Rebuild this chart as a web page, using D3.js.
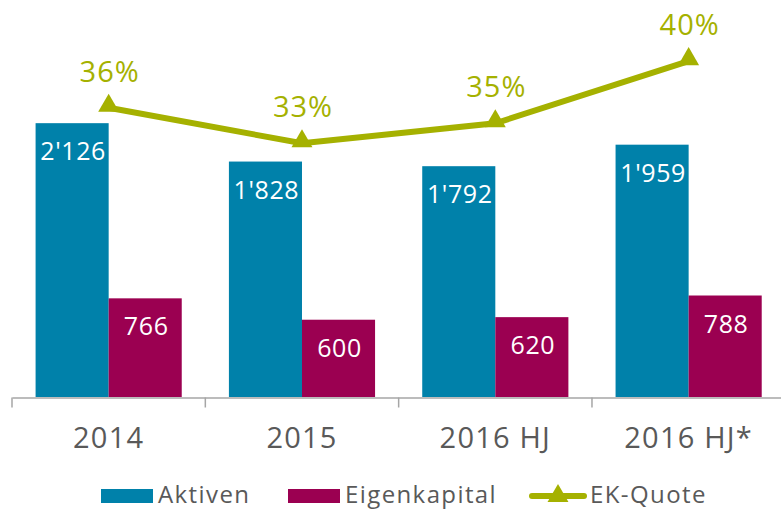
<!DOCTYPE html>
<html>
<head>
<meta charset="utf-8">
<script src="https://cdn.jsdelivr.net/npm/d3@7"></script>
<style>
	body { margin: 0; background: #fff; }
	text { font-family: 'Open Sans', sans-serif; }
</style>
</head>
<body>
<div id="chart"></div>
<script>
// NOTE data
var categories = ['2014', '2015', '2016 HJ', '2016 HJ*'];
var aktiven = [2126, 1828, 1792, 1959];
var eigenkapital = [766, 600, 620, 788];
var ekQuote = [36.0, 32.8, 34.6, 40.2];
var seriesNames = ['Aktiven', 'Eigenkapital', 'EK-Quote'];

var colors = { Aktiven: '#0081aa', Eigenkapital: '#9b0051', 'EK-Quote': '#a5b100' };

var width = 781,
	height = 509;

var svg = d3
	.select('#chart')
	.append('svg')
	.attr('width', width)
	.attr('height', height);

var x0 = d3.scaleBand().domain(categories).range([12, 785.3]).paddingInner(0);

var inset = x0.bandwidth() * 0.122;
var x1 = d3
	.scaleBand()
	.domain(['Aktiven', 'Eigenkapital'])
	.range([inset, x0.bandwidth() - inset]);

var y = d3.scaleLinear().domain([0, 2500]).range([397, 75]);
var y2 = d3.scaleLinear().domain([10, 45]).range([396, 8]);

var rows = categories.map(function (c, i) {
	return { cat: c, Aktiven: aktiven[i], Eigenkapital: eigenkapital[i], quote: ekQuote[i] };
});

// bars
var groups = svg
	.selectAll('g.grp')
	.data(rows)
	.enter()
	.append('g')
	.attr('class', 'grp')
	.attr('transform', function (d) {
		return 'translate(' + x0(d.cat) + ',0)';
	});

groups
	.selectAll('rect')
	.data(function (d) {
		return ['Aktiven', 'Eigenkapital'].map(function (k) {
			return { key: k, value: d[k] };
		});
	})
	.enter()
	.append('rect')
	.attr('x', function (d) {
		return x1(d.key);
	})
	.attr('y', function (d) {
		return y(d.value);
	})
	.attr('width', x1.bandwidth())
	.attr('height', function (d) {
		return y(0) - y(d.value);
	})
	.style('fill', function (d) {
		return colors[d.key];
	});

groups
	.selectAll('text.val')
	.data(function (d) {
		return ['Aktiven', 'Eigenkapital'].map(function (k) {
			return { key: k, value: d[k] };
		});
	})
	.enter()
	.append('text')
	.attr('class', 'val')
	.attr('x', function (d) {
		return x1(d.key) + x1.bandwidth() / 2 + 1;
	})
	.attr('y', function (d) {
		return y(d.value) + 37;
	})
	.attr('text-anchor', 'middle')
	.style('font-size', '25px')
	.style('letter-spacing', '0.6px')
	.style('fill', '#fff')
	.text(function (d) {
		return d3.format(',')(d.value).replace(/,/g, "'");
	});

// x axis
var xAxis = d3.axisBottom(x0).tickSize(10).tickSizeOuter(0).tickFormat('');
var ax = svg.append('g').attr('transform', 'translate(0,397.5)').call(xAxis);
ax.select('.domain').attr('stroke', '#a6a6a6').attr('stroke-width', 1.5);
ax.selectAll('.tick').remove();
ax.selectAll('.sep')
	.data(categories)
	.enter()
	.append('line')
	.attr('x1', function (d) {
		return x0(d);
	})
	.attr('x2', function (d) {
		return x0(d);
	})
	.attr('y1', 0)
	.attr('y2', 10)
	.attr('stroke', '#a6a6a6')
	.attr('stroke-width', 1.5);

svg
	.selectAll('text.cat')
	.data(categories)
	.enter()
	.append('text')
	.attr('class', 'cat')
	.attr('x', function (d) {
		return x0(d) + x0.bandwidth() / 2;
	})
	.attr('y', 448)
	.attr('text-anchor', 'middle')
	.style('font-size', '29px')
	.style('font-weight', 500)
	.style('letter-spacing', '1.2px')
	.style('fill', '#595959')
	.text(function (d) {
		return d;
	});

// line
var line = d3
	.line()
	.x(function (d) {
		return x0(d.cat) + x0.bandwidth() / 2;
	})
	.y(function (d) {
		return y2(d.quote);
	});

svg
	.append('path')
	.datum(rows)
	.attr('d', line)
	.attr('fill', 'none')
	.attr('stroke', colors['EK-Quote'])
	.attr('stroke-width', 6);

var tri = d3.symbol().type(d3.symbolTriangle).size(190);

svg
	.selectAll('path.mk')
	.data(rows)
	.enter()
	.append('path')
	.attr('class', 'mk')
	.attr('d', tri)
	.attr('transform', function (d) {
		return 'translate(' + (x0(d.cat) + x0.bandwidth() / 2) + ',' + (y2(d.quote) - 2) + ')';
	})
	.attr('fill', colors['EK-Quote']);

svg
	.selectAll('text.pct')
	.data(rows)
	.enter()
	.append('text')
	.attr('class', 'pct')
	.attr('x', function (d) {
		return x0(d.cat) + x0.bandwidth() / 2 + 1;
	})
	.attr('y', function (d) {
		return y2(d.quote) - 26;
	})
	.attr('text-anchor', 'middle')
	.style('font-size', '29px')
	.style('letter-spacing', '1px')
	.style('fill', colors['EK-Quote'])
	.text(function (d) {
		return Math.round(d.quote) + '%';
	});

// legend
var legendX = [101, 288, 530];
var leg = svg
	.selectAll('g.leg')
	.data(seriesNames)
	.enter()
	.append('g')
	.attr('class', 'leg')
	.attr('transform', function (d, i) {
		return 'translate(' + legendX[i] + ',496)';
	});

leg
	.filter(function (d) {
		return d !== 'EK-Quote';
	})
	.append('rect')
	.attr('x', 0)
	.attr('y', -7)
	.attr('width', 52)
	.attr('height', 14)
	.style('fill', function (d) {
		return colors[d];
	});

var lq = leg.filter(function (d) {
	return d === 'EK-Quote';
});
lq.append('line')
	.attr('x1', 2)
	.attr('x2', 54)
	.attr('y1', 0)
	.attr('y2', 0)
	.attr('stroke', colors['EK-Quote'])
	.attr('stroke-width', 6)
	.attr('stroke-linecap', 'round');
lq.append('path')
	.attr('d', tri)
	.attr('transform', 'translate(28,0)')
	.attr('fill', colors['EK-Quote']);

leg
	.append('text')
	.attr('x', function (d) {
		return d === 'EK-Quote' ? 60 : 57;
	})
	.attr('y', 7)
	.style('font-size', '24px')
	.style('letter-spacing', '1.4px')
	.style('fill', '#595959')
	.text(function (d) {
		return d;
	});
</script>
</body>
</html>
